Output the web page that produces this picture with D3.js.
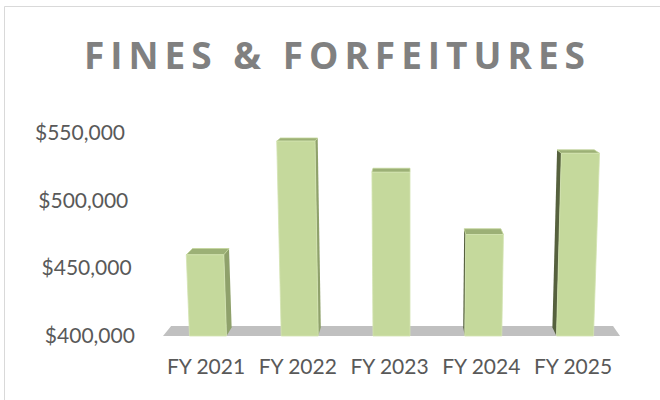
<!DOCTYPE html>
<html>
<head>
<meta charset="utf-8">
<script src="https://cdn.jsdelivr.net/npm/d3@7"></script>
<style>
  html, body { margin: 0; padding: 0; background: #fff; }
  svg { display: block; }
</style>
</head>
<body>
<script>
const categories = ['FY 2021', 'FY 2022', 'FY 2023', 'FY 2024', 'FY 2025'];
const values = [460000, 544000, 521000, 475000, 535000];
const tickValues = [400000, 450000, 500000, 550000];
const title = 'FINES & FORFEITURES';

const width = 660, height = 400;
const vp = { x: 410, y: 30 };   // vanishing point of the fake 3d
const barDepth = 0.028, floorDepth = 0.033, lean = 0.00018;
const barW = 37;

const svg = d3.select('body').append('svg')
  .attr('width', width)
  .attr('height', height);

// chart border (only left & top show inside the picture)
svg.append('path')
  .attr('d', 'M4.5,400 V6.5 H660')
  .attr('fill', 'none')
  .attr('stroke', '#d9d9d9')
  .attr('stroke-width', 1);

const x = d3.scalePoint().domain(categories).range([208, 575]);
const y = d3.scaleLinear().domain([400000, 550000]).range([336, 133]);

const back = (p, d) => [p[0] + (vp.x - p[0]) * d, p[1] + (vp.y - p[1]) * d];
const poly = pts => 'M' + pts.map(p => p.join(',')).join('L') + 'Z';

// floor
const y0 = y(400000);
const fl = [x(categories[0]) - 45, y0], fr = [x(categories[categories.length - 1]) + 45, y0];
svg.append('path')
  .attr('d', poly([fl, fr, back(fr, floorDepth), back(fl, floorDepth)]))
  .attr('fill', '#c0c0c0');

// bars
const bars = svg.append('g').selectAll('g')
  .data(categories.map((c, i) => ({ c, v: values[i] })))
  .join('g');

bars.each(function (d) {
  const g = d3.select(this);
  const cx = x(d.c);
  const top = y(d.v), h = y0 - top;
  const bl = [cx - barW / 2, y0], br = [cx + barW / 2, y0];
  const tl = [bl[0] + (bl[0] - vp.x) * h * lean, top];
  const tr = [br[0] + (br[0] - vp.x) * h * lean, top];
  const onLeft = cx < vp.x;
  if (Math.abs(cx - vp.x) > 10) {
    const side = onLeft ? [tr, br, back(br, barDepth), back(tr, barDepth)]
                        : [tl, bl, back(bl, barDepth), back(tl, barDepth)];
    g.append('path').attr('d', poly(side))
      .attr('fill', onLeft ? '#8fa16b' : '#56613e');
  }
  g.append('path').attr('d', poly([tl, tr, back(tr, barDepth), back(tl, barDepth)]))
    .attr('fill', '#9cb076')
    .attr('stroke', '#c3d69b').attr('stroke-width', 0.8);
  g.append('path').attr('d', poly([bl, br, tr, tl]))
    .attr('fill', '#c5d99c')
    .attr('stroke', '#d3e3b1').attr('stroke-width', 0.8);
});

// y tick labels, nudged right going down like the slanted back wall
svg.append('g').selectAll('text')
  .data(tickValues)
  .join('text')
  .attr('x', v => 125 + (550000 - v) / 50000 * 3.3)
  .attr('y', v => y(v) + 7)
  .attr('text-anchor', 'end')
  .attr('font-family', 'Lato, sans-serif')
  .attr('font-size', 21)
  .attr('fill', '#595959')
  .text(v => '$' + d3.format(',')(v));

// category labels
svg.append('g').selectAll('text')
  .data(categories)
  .join('text')
  .attr('x', c => x(c) - 2)
  .attr('y', 374)
  .attr('text-anchor', 'middle')
  .attr('font-family', 'Lato, sans-serif')
  .attr('font-size', 21)
  .attr('fill', '#595959')
  .text(c => c);

// title, spread to the reference width
const t = svg.append('text')
  .attr('x', 84)
  .attr('y', 69)
  .attr('font-family', '"Open Sans", sans-serif')
  .attr('font-weight', 700)
  .attr('font-size', 37)
  .attr('fill', '#808080')
  .text(title);
const w0 = t.node().getComputedTextLength();
t.attr('letter-spacing', ((501 - w0) / (title.length - 1)) + 'px');
</script>
</body>
</html>
